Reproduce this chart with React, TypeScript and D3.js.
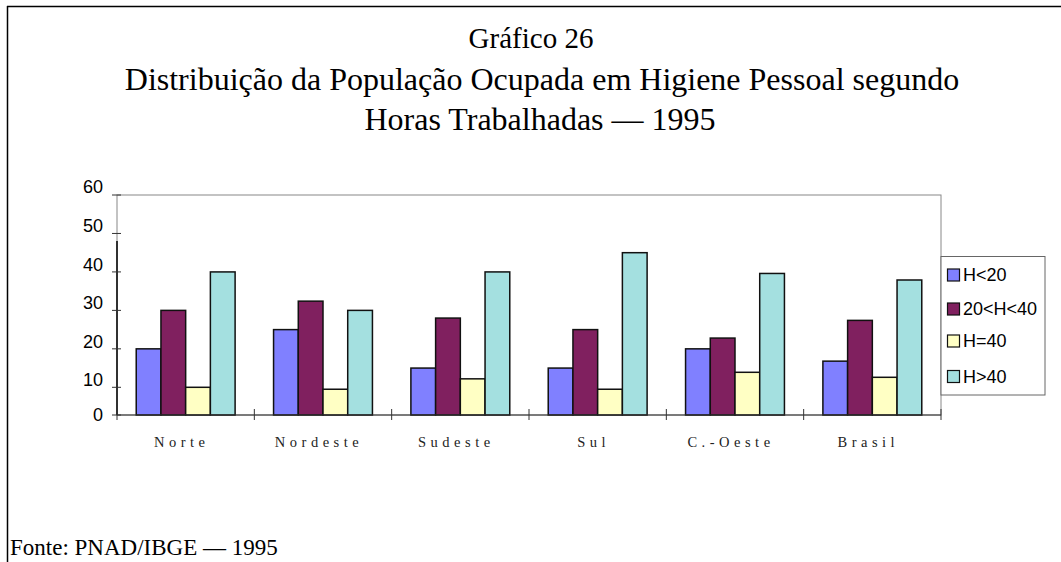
import React from "react";
import * as d3 from "d3";

const categories = ["Norte", "Nordeste", "Sudeste", "Sul", "C.-Oeste", "Brasil"];
const seriesNames = ["H<20", "20<H<40", "H=40", "H>40"];
const seriesColors = ["#8080ff", "#80205f", "#ffffc4", "#a4e0e0"];
const hLt20 = [20, 25, 15, 15, 20, 16.8];
const h20to40 = [30, 32.4, 28, 25, 22.8, 27.4];
const hEq40 = [10, 9.3, 12.2, 9.3, 13.9, 12.6];
const hGt40 = [40, 30, 40, 45, 39.6, 37.9];
const seriesValues = [hLt20, h20to40, hEq40, hGt40];
const yTicks = [0, 10, 20, 30, 40, 50, 60];

const W = 1061;
const H = 562;
const plotL = 117;
const plotR = 941;
const plotT = 195;
const plotB = 415;
const serif = "'Liberation Serif', 'Times New Roman', serif";
const sans = "'Liberation Sans', Arial, sans-serif";

export default function App() {
  const x0 = d3.scaleBand<string>().domain(categories).range([plotL, plotR]).padding(0);
  const bw = x0.bandwidth();
  const x1 = d3.scaleBand<string>().domain(seriesNames).range([bw * 0.14, bw * 0.86]).padding(0);
  // piecewise scale, as in the original chart
  const y = d3.scaleLinear().domain([0, 10, 60]).range([plotB, 387.3, plotT]);
  const yLab = d3.scaleLinear().domain([0, 10, 60]).range([plotB, 380, 187]);

  return (
    <svg width={W} height={H} style={{ position: "absolute", left: 0, top: 0, background: "#fff" }}>
      {/* outer frame */}
      <line x1={7} y1={6.5} x2={W} y2={6.5} stroke="#000" strokeWidth={1.5} />
      <line x1={7.5} y1={6} x2={7.5} y2={H} stroke="#000" strokeWidth={1.5} />

      {/* title */}
      <g fontFamily={serif} fill="#000" textAnchor="middle">
        <text x={531} y={48} fontSize={29}>Gráfico 26</text>
        <text x={542} y={90} fontSize={32}>Distribuição da População Ocupada em Higiene Pessoal segundo</text>
        <text x={540} y={130} fontSize={32}>Horas Trabalhadas — 1995</text>
      </g>

      {/* plot frame */}
      <rect x={plotL} y={plotT} width={plotR - plotL} height={plotB - plotT} fill="none" stroke="#888" strokeWidth={1} />
      <line x1={plotL} y1={241} x2={plotL} y2={plotB} stroke="#000" strokeWidth={1.5} />

      {/* bars */}
      {categories.map((c, ci) => (
        <g key={c} transform={`translate(${x0(c)},0)`}>
          {seriesNames.map((s, si) => {
            const v = seriesValues[si][ci];
            return (
              <rect
                key={s}
                x={x1(s)}
                y={y(v)}
                width={x1.bandwidth()}
                height={plotB - y(v)}
                fill={seriesColors[si]}
                stroke="#111"
                strokeWidth={1.5}
              />
            );
          })}
        </g>
      ))}

      {/* x axis */}
      <line x1={plotL} y1={plotB} x2={plotR} y2={plotB} stroke="#333" strokeWidth={1.2} />
      {categories.map((c) => (
        <line key={"t" + c} x1={x0(c)!} y1={plotB - 6} x2={x0(c)!} y2={plotB + 5} stroke="#333" strokeWidth={1} />
      ))}
      <line x1={plotR} y1={plotB - 6} x2={plotR} y2={plotB + 5} stroke="#333" strokeWidth={1} />
      {categories.map((c) => (
        <text
          key={"l" + c}
          x={x0(c)! + bw / 2 - 4}
          y={447}
          textAnchor="middle"
          fontFamily={serif}
          fontSize={14.5}
          letterSpacing={4.5}
          fill="#222"
        >
          {c}
        </text>
      ))}

      {/* y axis ticks */}
      {yTicks.map((t) => (
        <g key={"y" + t}>
          <line x1={plotL - 5} y1={y(t)} x2={plotL + 4} y2={y(t)} stroke="#333" strokeWidth={1} />
          <text x={103} y={yLab(t)} dy="0.35em" textAnchor="end" fontFamily={sans} fontSize={18} fill="#000">
            {t}
          </text>
        </g>
      ))}

      {/* legend */}
      <rect x={941} y={256.5} width={104} height={138.5} fill="#fff" stroke="#666" strokeWidth={1} />
      {seriesNames.map((s, i) => {
        const cy = [275, 309, 341, 376.5][i];
        return (
          <g key={"lg" + s}>
            <rect x={947.5} y={cy - 6} width={12} height={12} fill={seriesColors[i]} stroke="#111" strokeWidth={1.2} />
            <text x={963} y={cy} dy="0.35em" fontFamily={sans} fontSize={18} fill="#000">
              {s}
            </text>
          </g>
        );
      })}

      {/* source */}
      <text x={10} y={555} fontFamily={serif} fontSize={23} fill="#000">
        Fonte: PNAD/IBGE — 1995
      </text>
    </svg>
  );
}
